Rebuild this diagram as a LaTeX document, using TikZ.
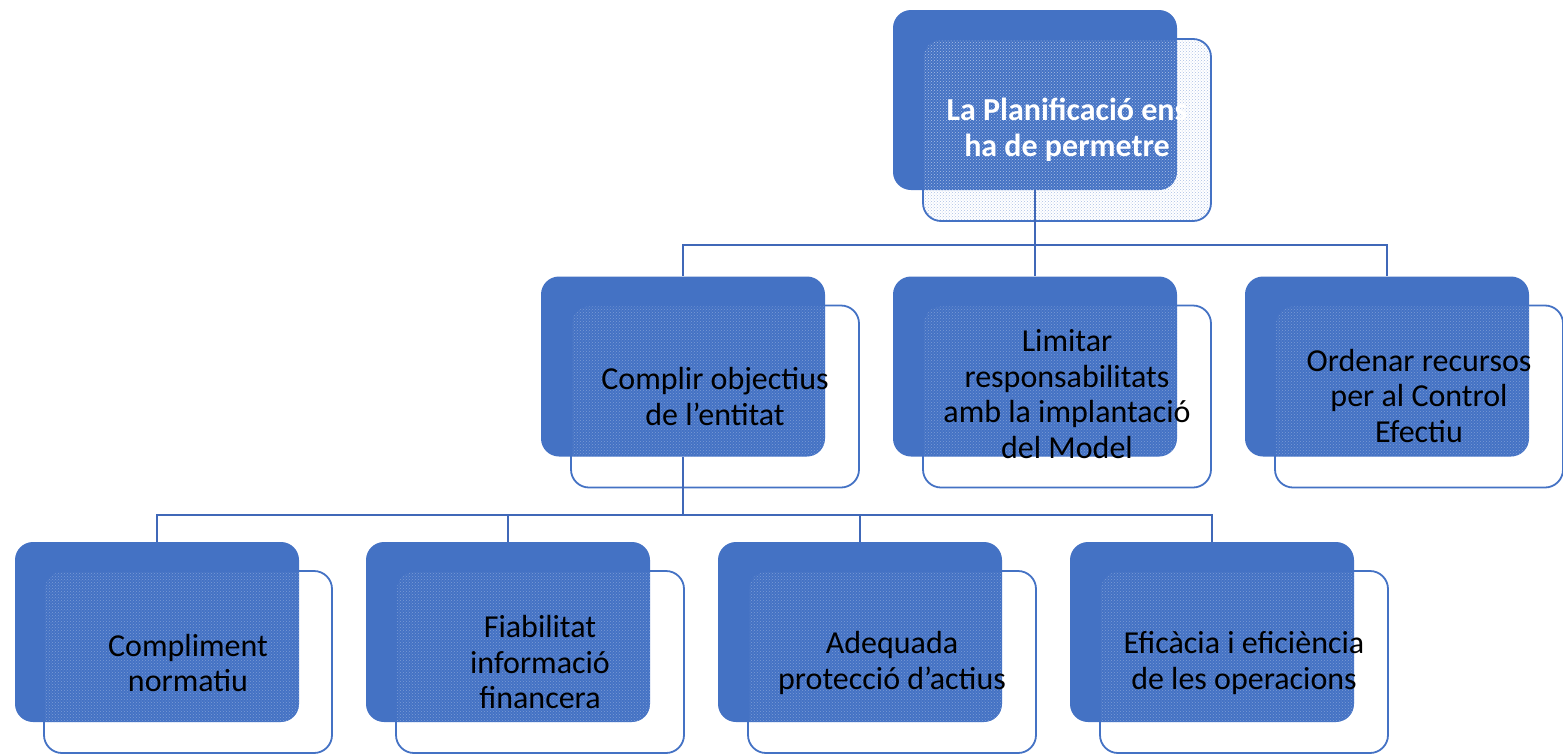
\documentclass[tikz,border=0pt]{standalone}
\usepackage{fontspec}
\setmainfont{Carlito}
\usetikzlibrary{patterns}
\definecolor{accent}{HTML}{4472C4}
\definecolor{linec}{HTML}{4068B8}
\tikzset{
  backbox/.style={fill=accent, rounded corners=18pt, minimum width=284pt, minimum height=180pt, inner sep=0pt, draw=none},
  frontbox/.style={draw=accent, line width=1.8pt, rounded corners=18pt, minimum width=288pt, minimum height=182pt, inner sep=0pt},
  lbl/.style={align=center, font=\fontsize{32}{35.5}\selectfont, text=black},
  toplbl/.style={align=center, font=\fontsize{32}{35.5}\selectfont\bfseries, text=white},
  conn/.style={draw=linec, line width=2pt},
}
\begin{document}
\begin{tikzpicture}[x=1pt,y=-1pt]
\useasboundingbox (0,0) rectangle (1563,755);
% ---------- top ----------
\node[backbox] (b0) at (1035,100) {};
\path[pattern=crosshatch dots, pattern color=accent!45!white, rounded corners=18pt] (923,39) rectangle (1211,221);
\node[frontbox] (f0) at (1067,130) {};
% ---------- level 2 and 3 back boxes ----------
\foreach \n/\bx in {b1/683, b2/1035, b3/1387} {
  \node[backbox] (\n) at (\bx,366.5) {};
}
\foreach \n/\bx in {b4/157, b5/508, b6/860, b7/1212} {
  \node[backbox] (\n) at (\bx,632) {};
}
% patterns on overlap
\foreach \bx/\fx/\by/\fy in {683/715/366.5/396.5, 1035/1067/366.5/396.5, 1387/1419/366.5/396.5, 157/188/632/662, 508/540/632/662, 860/892/632/662, 1212/1244/632/662} {
  \begin{scope}
    \clip[rounded corners=18pt] (\bx-142,\by-90) rectangle (\bx+142,\by+90);
    \path[pattern=crosshatch dots, pattern color=accent!70!white, rounded corners=18pt] (\fx-144,\fy-91) rectangle (\fx+144,\fy+91);
  \end{scope}
}
\node[frontbox] (f1) at (715,396.5) {};
\node[frontbox] (f2) at (1067,396.5) {};
\node[frontbox] (f3) at (1419,396.5) {};
\node[frontbox] (f4) at (188,662) {};
\node[frontbox] (f5) at (540,662) {};
\node[frontbox] (f6) at (892,662) {};
\node[frontbox] (f7) at (1244,662) {};
% ---------- connectors ----------
\coordinate (j0) at (1035,245);
\coordinate (j1) at (683,515);
\draw[conn] (b0.south) -- (j0);
\draw[conn] (j0) -| (b1.north);
\draw[conn] (j0) -- (b2.north);
\draw[conn] (j0) -| (b3.north);
\draw[conn] (b1.south) -- (j1);
\draw[conn] (j1) -| (b4.north);
\draw[conn] (j1) -| (b5.north);
\draw[conn] (j1) -| (b6.north);
\draw[conn] (j1) -| (b7.north);
% ---------- texts ----------
\node[toplbl] (t0) at (1067,130) {La Planificació ens\\ha de permetre};
\node[lbl] (t1) at (715,396.5) {Complir objectius\\de l’entitat};
\node[lbl] (t2) at (1067,394) {Limitar\\responsabilitats\\amb la implantació\\del Model};
\node[lbl] (t3) at (1419,396) {Ordenar recursos\\per al Control\\Efectiu};
\node[lbl] (t4) at (188,663) {Compliment\\normatiu};
\node[lbl] (t5) at (540,662) {Fiabilitat\\informació\\financera};
\node[lbl] (t6) at (892,663) {Adequada\\protecció d’actius};
\node[lbl] (t7) at (1244,663) {Eficàcia i eficiència\\de les operacions};
\end{tikzpicture}
\end{document}
